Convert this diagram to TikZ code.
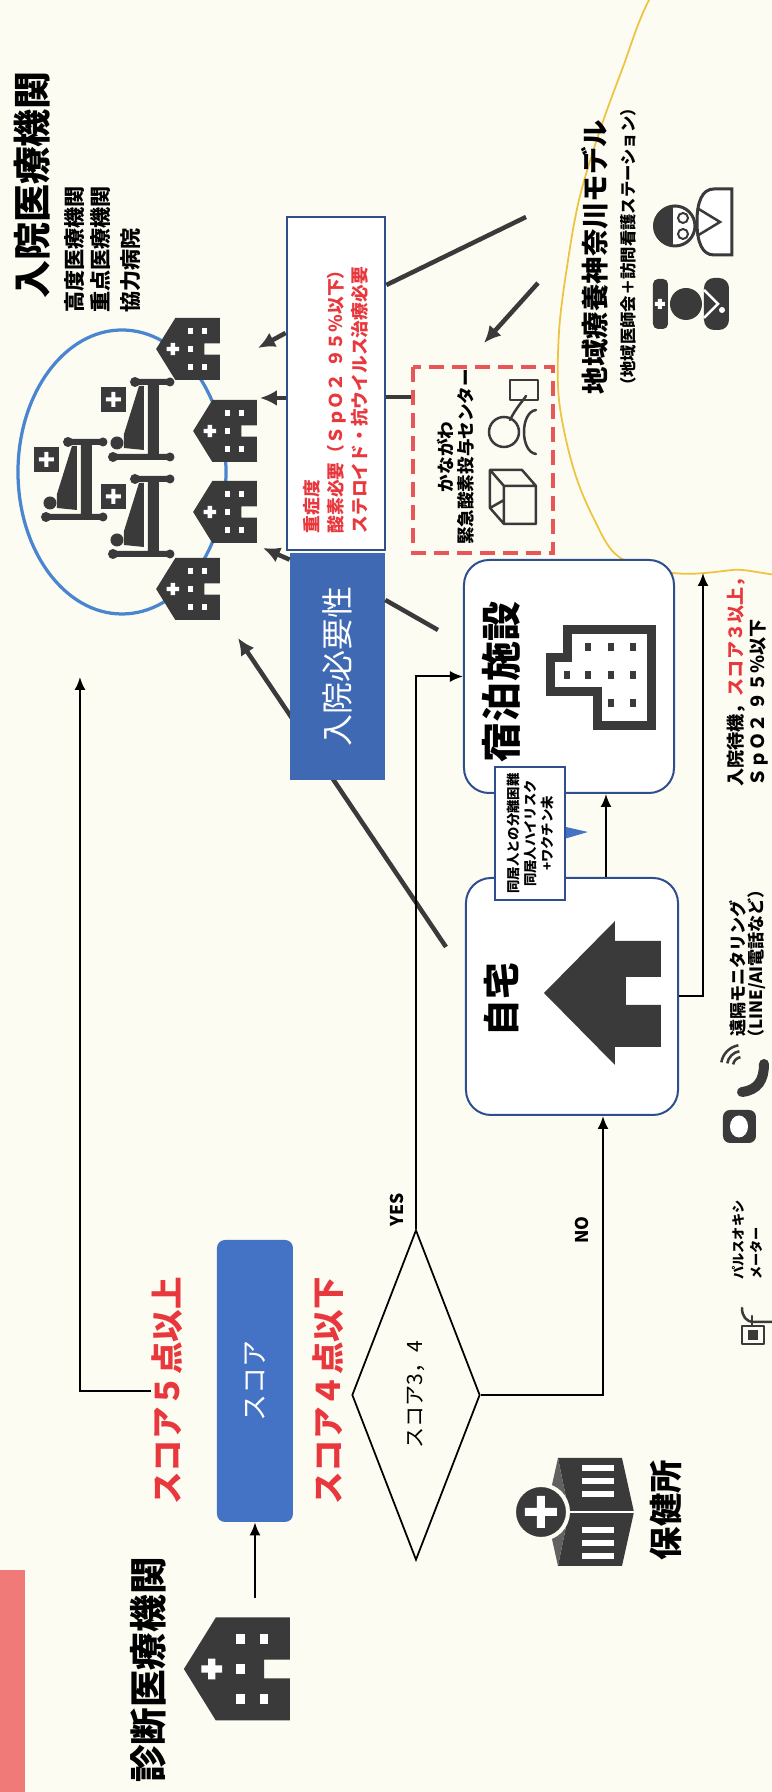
\documentclass[tikz,border=0pt]{standalone}
\usepackage{fontspec}
\setmainfont{Noto Sans CJK JP}
\usetikzlibrary{arrows.meta,shapes.geometric,calc}

\definecolor{paper}{HTML}{FCFCF3}
\definecolor{ink}{HTML}{3A3A3A}
\definecolor{ringblue}{HTML}{4A86CF}
\definecolor{boxblue}{HTML}{3F6AB3}
\definecolor{scoreblue}{HTML}{4472C4}
\definecolor{frameblue}{HTML}{2F4E8E}
\definecolor{alertred}{HTML}{E8383D}
\definecolor{dashred}{HTML}{E85757}
\definecolor{modelyellow}{HTML}{EEC340}
\definecolor{tabpink}{HTML}{F07A78}

\tikzset{
	hosp/.pic={
		\fill[ink] (-50,0) -- (-50,72) -- (0,103) -- (50,72) -- (50,0) -- (9,0) -- (9,25) -- (-9,25) -- (-9,0) -- cycle;
		\foreach \wx/\wy in {-29/25,-29/48,0/48,29/25,29/48}
			\fill[white] (\wx-4.5,\wy-4) rectangle (\wx+4.5,\wy+4);
		\fill[white] (-3.5,66) rectangle (3.5,86) (-10,72.5) rectangle (10,79.5);
	},
	bed/.pic={
		\fill[ink] (0,0) rectangle (6,54) (75,0) rectangle (81,32) (0,11) rectangle (81,22);
		\fill[ink] (3,57) circle (5) (78,35) circle (5) (3,0) circle (4.5) (78,0) circle (4.5);
		\fill[ink] (10,26) -- (74,26) -- (74,31) -- (26,46) -- (12,46) -- cycle;
		\fill[ink] (17,53) circle (6.5);
		\fill[ink] (48,44) rectangle (73,69);
		\fill[white] (58.5,49) rectangle (62.5,64) (53,54.5) rectangle (68,58.5);
	},
}

\begin{document}
\begin{tikzpicture}[x=0.2mm,y=0.2mm,rotate=90,transform shape,
	bigline/.style={draw=ink,line width=0.9mm},
	bigarrow/.style={bigline,-{Latex[length=3.4mm,width=3.2mm]}},
	flowarrow/.style={draw=black,line width=0.4mm,-{Latex[length=2.6mm,width=2.2mm]}},
	placebox/.style={draw=frameblue,line width=0.4mm,rounded corners=5mm,fill=white},
	jp/.style={inner sep=0pt,font=\fontsize{#1}{#1}\selectfont\bfseries},
	iconline/.style={draw=ink,line width=0.5mm,line join=round,line cap=round}]

	\useasboundingbox (0,0) rectangle (1792,772);
	\clip (0,0) rectangle (1792,772);
	\fill[paper] (0,0) rectangle (1792,772);
	\fill[tabpink] (0,747) rectangle (222,772);

	\coordinate (homeOut) at (845,326);
	\coordinate (wardIn) at (1154,534);
	\coordinate (stayOut) at (1162,334);
	\coordinate (wardB1) at (1444,514);
	\coordinate (wardB2) at (1394,512);
	\coordinate (wardB4) at (1244,509);
	\coordinate (modelLink) at (1575,246);
	\coordinate (modelOut) at (1509,234);
	\coordinate (kngIn) at (1449,288);
	\coordinate (clinicOut) at (194,517);
	\coordinate (upBend) at (401,692);
	\coordinate (wardEntry) at (1115,692);
	\coordinate (yesBend) at (1115.5,356);
	\coordinate (noBend) at (397,169);
	\coordinate (waitBend) at (795.5,69);
	\coordinate (waitEnd) at (1219,69);

	\draw[bigarrow] (homeOut) -- (wardIn);

	\node[jp=21.6] (wardTitle) at (1607,740) {入院医療機関};
	\node[jp=12,anchor=west] (wardA) at (1479,697) {高度医療機関};
	\node[jp=12,anchor=west] (wardB) at (1479,672) {重点医療機関};
	\node[jp=12,anchor=west] (wardC) at (1479,641) {協力病院};

	\draw[ringblue,line width=0.65mm] (1320,650) ellipse [x radius=142,y radius=104];
	\pic at (1332,602) {bed};
	\pic at (1272,669) {bed};
	\pic at (1235,602) {bed};
	\pic[scale=0.62] at (1443,552) {hosp};
	\pic[scale=0.62] at (1361,515) {hosp};
	\pic[scale=0.62] at (1280,515) {hosp};
	\pic[scale=0.62] at (1203,552) {hosp};

	\node[draw=frameblue,line width=0.55mm,fill=white,minimum width=66.6mm,minimum height=19.6mm,
		text width=60mm,align=left,inner xsep=3.3mm,text=alertred,
		font=\fontsize{10.1}{13.7}\selectfont\bfseries] (cond) at (1408.5,436)
		{重症度\\酸素必要（ＳｐＯ２ ９５％以下）\\ステロイド・抗ウイルス治療必要};
	\node[fill=boxblue,minimum width=45.4mm,minimum height=19mm,text=white,
		font=\fontsize{18.2}{20}\selectfont] (need) at (1125.5,434.5) {入院必要性};

	\node[draw=dashred,line width=0.7mm,dash pattern=on 3mm off 1.6mm,
		minimum width=37.2mm,minimum height=28mm] (kng) at (1332,289) {};
	\node[align=center,font=\fontsize{10}{11.4}\selectfont\bfseries] (kngName) at (1335,316)
		{かながわ\\緊急酸素投与センター};
	\draw[iconline] (1268,236) rectangle (1306,268) (1268,268) -- (1284,282) -- (1322,282) -- (1306,268)
		(1306,236) -- (1322,250) -- (1322,282) (1284,282) -- (1292,268);
	\draw[iconline] (1360,268) circle (15);
	\draw[iconline] (1338,236) .. controls (1340,252) and (1380,252) .. (1382,236);
	\draw[iconline] (1372,262) .. controls (1384,256) and (1390,250) .. (1396,246);
	\draw[iconline] (1392,234) rectangle (1412,262);

	\draw[modelyellow,line width=0.35mm] plot[smooth cycle,tension=0.55] coordinates {
		(1219,99) (1235,153) (1275,179) (1325,199) (1392,213) (1460,213) (1525,205) (1592,193)
		(1659,173) (1725,149) (1792,123) (1880,70) (1930,-60) (1500,-170) (1240,-70) (1222,40)};
	\node[jp=15.6] (modelTitle) at (1535,177) {地域療養神奈川モデル};
	\node[jp=9.3] (modelSub) at (1545,144) {（地域医師会＋訪問看護ステーション）};
	\fill[ink,rounded corners=1mm] (1463,104) rectangle (1513,119);
	\fill[white] (1486,107) rectangle (1490,117) (1483,110) rectangle (1493,114);
	\fill[ink] (1488,86) circle (16);
	\fill[ink,rounded corners=2mm] (1462,43) rectangle (1514,68);
	\draw[white,line width=0.5mm] (1474,68) -- (1488,54) -- (1502,68);
	\fill[white] (1482,50) circle (3);
	\draw[ink,line width=0.6mm,fill=white] (1537,40) -- (1537,58) .. controls (1537,70) and (1550,75) .. (1570,75)
		.. controls (1590,75) and (1603,70) .. (1603,58) -- (1603,40) -- cycle;
	\draw[ink,line width=0.5mm] (1556,75) -- (1570,52) -- (1584,75);
	\draw[ink,line width=0.6mm,fill=white] (1566,97) circle (20);
	\fill[ink] (1546,99) arc (180:0:20) -- cycle;
	\draw[ink,line width=0.4mm] (1558,89) circle (5) (1574,89) circle (5);

	\node[placebox,minimum width=46.6mm,minimum height=42mm] (stay) at (1115.5,203) {};
	\node[jp=22.8] (stayLabel) at (1110,271) {宿泊施設};
	\draw[ink,line width=1.8mm,fill=white] (1066.5,120.5) -- (1162.5,120.5) -- (1162.5,204.5) -- (1134.5,204.5)
		-- (1134.5,221.5) -- (1100.5,221.5) -- (1100.5,174.5) -- (1066.5,174.5) -- cycle;
	\foreach \dx/\dy in {1089/139,1117/139,1145/139,1089/161,1117/161,1145/161,1117/184,1145/184,1117/205}
		\fill[ink] (\dx-4,\dy-3) rectangle (\dx+4,\dy+3);

	\node[placebox,minimum width=47.4mm,minimum height=42.4mm] (home) at (795.5,200) {};
	\node[jp=20.9] (homeLabel) at (792,271) {自宅};
	\fill[ink] (799,228) -- (871,157) -- (851,157) -- (851,111) -- (815,111) -- (815,146) -- (787,146)
		-- (787,111) -- (745,111) -- (745,157) -- (727,157) -- cycle;

	\node[draw=frameblue,line width=0.35mm,fill=white,minimum width=26.6mm,minimum height=14mm,
		align=center,inner sep=0pt,font=\fontsize{7.6}{9.7}\selectfont\bfseries] (note) at (958.5,242)
		{同居人との分離困難\\同居人ハイリスク\\+ワクチン未};
	\fill[scoreblue] ($(note.south)+(-5,0)$) -- ($(note.south)+(1.5,-22)$) -- ($(note.south)+(6.5,0)$) -- cycle;

	\draw[bigline] (stayOut) -- ($(need.south)+(66.5,0)$);
	\draw[bigarrow] ($(need.north east)+(-7,0)$) -- (wardB4);
	\draw[bigarrow] ($(cond.north)+(50.5,0)$) -- (wardB1);
	\draw[bigarrow] ($(cond.north)+(-14.5,0)$) -- (wardB2);
	\draw[bigline] ($(cond.south)+(-13.5,0)$) -- ($(kng.north)+(63,0)$);
	\draw[bigline] ($(cond.south)+(98.5,0)$) -- (modelLink);
	\draw[bigarrow] (modelOut) -- (kngIn);

	\node[jp=21.4] (clinicLabel) at (122,624) {診断医療機関};
	\pic[scale=1.03] at (123,482) {hosp};
	\node[fill=scoreblue,rounded corners=1.6mm,minimum width=56.4mm,minimum height=15.2mm,text=white,
		font=\fontsize{15.4}{16}\selectfont] (score) at (411,517) {スコア};
	\node[jp=18.5,text=alertred] (hi) at (401,605) {スコア５点以上};
	\node[jp=18.5,text=alertred] (lo) at (401,444) {スコア４点以下};
	\node[draw=black,line width=0.35mm,shape=diamond,shape aspect=2.6,minimum width=66mm,minimum height=25.6mm,
		inner sep=0pt,font=\fontsize{12}{12}\selectfont] (dia) at (397,356) {スコア3，4};
	\node[jp=10] (yesLabel) at (582,375) {YES};
	\node[jp=10] (noLabel) at (562,190) {NO};

	\draw[flowarrow] (clinicOut) -- (score.west);
	\draw[flowarrow] (hi.north) -- (upBend) -- (wardEntry);
	\draw[flowarrow] (dia.east) -- (yesBend) -- (stay.north);
	\draw[flowarrow] (dia.south) -- (noBend) -- ($(home.west)+(0,-31)$);
	\draw[flowarrow] ($(home.east)+(0,-34)$) -- ($(stay.west)+(0,-37)$);
	\draw[flowarrow] (home.south) -- (waitBend) -- (waitEnd);

	\node[jp=10.3,anchor=west] (waitA) at (1005,36) {入院待機，\textcolor{alertred}{スコア３以上，}};
	\node[jp=10.3,anchor=west] (waitB) at (1005,13) {ＳｐＯ２ ９５％以下};

	\fill[ink] (226,150) -- (280,138) -- (280,203) -- (226,214) -- cycle;
	\fill[ink] (280,138) -- (334,150) -- (334,214) -- (280,203) -- cycle;
	\fill[ink!80!white] (226,214) -- (280,203) -- (334,214) -- (280,226) -- cycle;
	\draw[white,line width=0.3mm] (280,138) -- (280,203);
	\foreach \wx in {236,249,262,298,311,324}
		\fill[white] (\wx-3,158) rectangle (\wx+3,190);
	\fill[ink,draw=paper,line width=0.8mm] (280,231) circle (27);
	\fill[white] (276,215) rectangle (284,247) (264,227) rectangle (296,235);
	\node[jp=19] (hcLabel) at (282,106) {保健所};

	\draw[iconline] (448,8) rectangle (466,30);
	\fill[ink] (452,14) rectangle (462,24);
	\draw[iconline] (470,0) -- (470,18) .. controls (470,26) and (476,30) .. (484,30);
	\draw[iconline] (466,20) -- (476,20);
	\node[jp=7.5,anchor=west] (oxA) at (512,34) {パルスオキシ};
	\node[jp=7.5,anchor=west] (oxB) at (512,16) {メーター};

	\fill[ink,rounded corners=1.4mm] (649,16) rectangle (682,49);
	\fill[white] (665.5,33) ellipse [x radius=11,y radius=9];
	\draw[ink,line width=2mm,line cap=round] (700,30) .. controls (702,14) and (712,8) .. (728,8);
	\foreach \r in {9,15,21}
		\draw[ink,line width=0.5mm] (726,30) ++(10:\r) arc (10:80:\r);
	\node[jp=9.7,anchor=west] (monA) at (755,34) {遠隔モニタリング};
	\node[jp=9.7,anchor=west] (monB) at (745,15) {（LINE/AI電話など）};
\end{tikzpicture}
\end{document}
